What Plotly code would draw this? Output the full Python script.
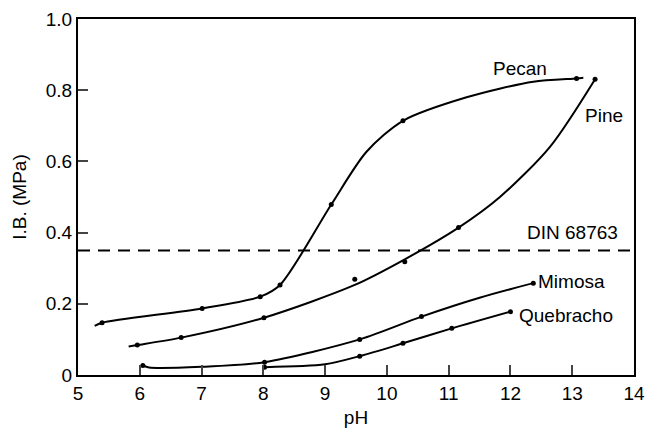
import plotly.graph_objects as go

# Smooth curve paths
pecan_x = [5.27, 5.39, 7.01, 7.95, 8.27, 9.10, 9.67, 10.26, 11.29, 12.37, 13.07, 13.18]
pecan_y = [0.138, 0.147, 0.187, 0.220, 0.253, 0.479, 0.627, 0.714, 0.780, 0.824, 0.833, 0.835]
pine_x = [5.82, 5.96, 6.67, 8.01, 9.48, 10.29, 11.16, 11.83, 12.64, 13.37]
pine_y = [0.080, 0.084, 0.105, 0.161, 0.253, 0.325, 0.414, 0.500, 0.641, 0.831]
mimosa_x = [6.05, 6.15, 7.0, 8.02, 9.56, 10.56, 11.5, 12.37]
mimosa_y = [0.027, 0.021, 0.023, 0.036, 0.100, 0.164, 0.217, 0.258]
queb_x = [8.02, 9.0, 9.56, 10.26, 11.05, 12.0]
queb_y = [0.022, 0.030, 0.053, 0.089, 0.131, 0.178]

# Measured data points (dots)
pecan_px = [5.39, 7.01, 7.95, 8.27, 9.10, 10.26, 13.07]
pecan_py = [0.147, 0.187, 0.220, 0.253, 0.479, 0.714, 0.833]
pine_px = [5.96, 6.67, 8.01, 9.48, 10.29, 11.16, 13.37]
pine_py = [0.084, 0.105, 0.161, 0.269, 0.318, 0.414, 0.831]
mimosa_px = [6.05, 8.02, 9.56, 10.56, 12.37]
mimosa_py = [0.027, 0.036, 0.100, 0.164, 0.258]
queb_px = [8.02, 9.56, 10.26, 11.05, 12.0]
queb_py = [0.022, 0.053, 0.089, 0.131, 0.178]

din_level = 0.35
x_ticks = [5, 6, 7, 8, 9, 10, 11, 12, 13, 14]
y_ticks = [0, 0.2, 0.4, 0.6, 0.8, 1.0]
y_tick_labels = ["0", "0.2", "0.4", "0.6", "0.8", "1.0"]

fig = go.Figure()
for cx, cy in [(pecan_x, pecan_y), (pine_x, pine_y), (mimosa_x, mimosa_y), (queb_x, queb_y)]:
    fig.add_trace(go.Scatter(x=cx, y=cy, mode="lines",
                             line=dict(color="black", width=2, shape="spline", smoothing=0.8),
                             showlegend=False, hoverinfo="skip"))
for px, py in [(pecan_px, pecan_py), (pine_px, pine_py), (mimosa_px, mimosa_py), (queb_px, queb_py)]:
    fig.add_trace(go.Scatter(x=px, y=py, mode="markers",
                             marker=dict(color="black", size=5), showlegend=False))

fig.add_trace(go.Scatter(x=[5, 14], y=[din_level, din_level], mode="lines",
                         line=dict(color="black", width=2, dash="12px,8px"), showlegend=False))

font = dict(family="Liberation Sans, Arial, sans-serif", size=19, color="black")
fig.add_annotation(x=12.16, y=0.862, text="Pecan", showarrow=False, font=font)
fig.add_annotation(x=13.52, y=0.73, text="Pine", showarrow=False, font=font)
fig.add_annotation(x=13.0, y=0.40, text="DIN 68763", showarrow=False, font=font)
fig.add_annotation(x=12.42, y=0.262, text="Mimosa", showarrow=False, font=font, xanchor="left")
fig.add_annotation(x=12.1, y=0.166, text="Quebracho", showarrow=False, font=font, xanchor="left")

fig.update_layout(
    width=646, height=433,
    margin=dict(l=78, r=12, t=19, b=58, autoexpand=False),
    paper_bgcolor="white", plot_bgcolor="white",
    font=font,
    xaxis=dict(range=[5, 14], tickvals=x_ticks, ticks="inside", ticklen=10, tickwidth=1.5,
               showline=True, linecolor="black", linewidth=2, mirror=True, showgrid=False,
               zeroline=False, automargin=False, title=dict(text="pH", font=font, standoff=8)),
    yaxis=dict(range=[0, 1.0], tickvals=y_ticks, ticktext=y_tick_labels, ticks="inside",
               ticklen=10, tickwidth=1.5, showline=True, linecolor="black", linewidth=2,
               mirror=True, showgrid=False, zeroline=False, automargin=False,
               title=dict(text="I.B. (MPa)", font=font, standoff=14)),
)
fig.write_html("out.html")
